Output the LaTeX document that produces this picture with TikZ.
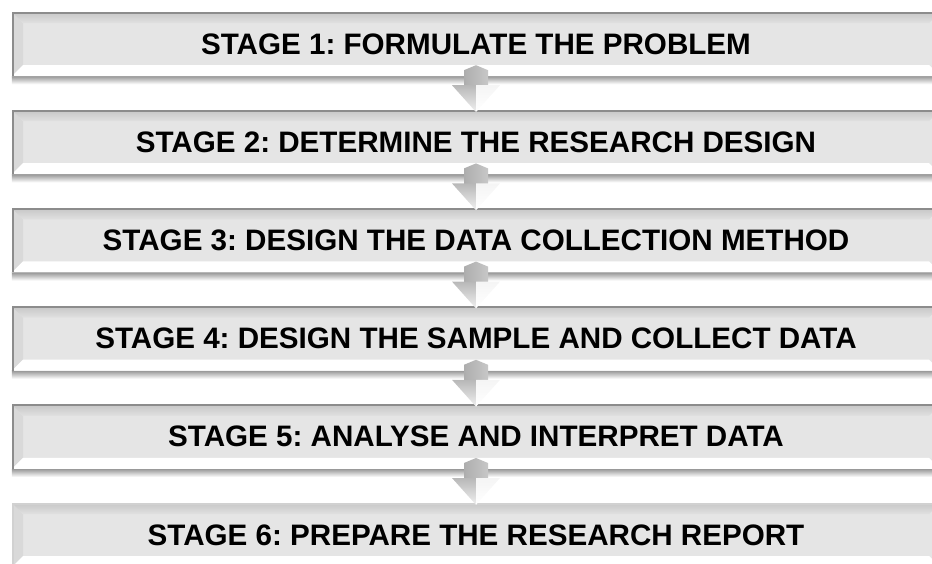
\documentclass[tikz,border=0pt]{standalone}
\usepackage{fontspec}
\setmainfont{Liberation Sans}
\frenchspacing
\usetikzlibrary{positioning,calc,backgrounds}

% block arrow from the bottom of one stage to the top of the next
\newcommand{\stagearrow}[2]{%
  \shade[left color=black!32,middle color=black!4,right color=black!22]
    ($(#1.south)+(0,11pt)$) -- ($(#1.south)+(12pt,6pt)$) -- ($(#1.south)+(12pt,-10pt)$)
    -- ($(#1.south)+(-12pt,-10pt)$) -- ($(#1.south)+(-12pt,6pt)$) -- cycle;
  \shade[top color=black!28,bottom color=black!6]
    ($(#1.south)+(-24pt,-9pt)$) -- ($(#1.south)+(0,-9pt)$) -- ($(#2.north)+(0,-2pt)$) -- cycle;
  \shade[top color=black!4,bottom color=white]
    ($(#1.south)+(0,-9pt)$) -- ($(#1.south)+(24pt,-9pt)$) -- ($(#2.north)+(0,-2pt)$) -- cycle;
}

\begin{document}
\begin{tikzpicture}[
  stage/.default=black!45,
  stage/.style={rectangle,minimum width=928pt,minimum height=64pt,inner sep=0pt,fill=black!10,
    font=\bfseries\fontsize{29.6}{34}\selectfont,
    path picture={
      \coordinate (nw) at (path picture bounding box.north west);
      \coordinate (ne) at (path picture bounding box.north east);
      \coordinate (sw) at (path picture bounding box.south west);
      \coordinate (se) at (path picture bounding box.south east);
      \fill[black!15] (nw) -- (sw) -- ($(sw)+(11pt,11pt)$) -- ($(nw)+(11pt,-11pt)$) -- cycle;
      \shade[top color=black!22,bottom color=black!12]
        (nw) -- (ne) -- ($(ne)+(-11pt,-11pt)$) -- ($(nw)+(11pt,-11pt)$) -- cycle;
      \fill[white] (sw) -- (se) -- ($(se)+(-11pt,11pt)$) -- ($(sw)+(11pt,11pt)$) -- cycle;
      \draw[#1,line width=3pt] (sw) -- (nw) -- (ne);
    }}]
\path[use as bounding box] (0,0) rectangle (932pt,-563pt);

\node[stage](s1) at (476pt,-44pt){STAGE 1: FORMULATE THE PROBLEM};
\node[stage,below=33.8pt of s1](s2){STAGE 2: DETERMINE THE RESEARCH DESIGN};
\node[stage,below=33.8pt of s2](s3){STAGE 3: DESIGN THE DATA COLLECTION METHOD};
\node[stage,below=33.8pt of s3](s4){STAGE 4: DESIGN THE SAMPLE AND COLLECT DATA};
\node[stage,below=33.8pt of s4](s5){STAGE 5: ANALYSE AND INTERPRET DATA};
\node[stage=black!18,below=33.8pt of s5](s6){STAGE 6: PREPARE THE RESEARCH REPORT};

% soft shadow under each box
\begin{scope}[on background layer]
  \foreach \n in {s1,s2,s3,s4,s5}
    \shade[top color=black!40,bottom color=white] (\n.south west) rectangle ($(\n.south east)+(0,-8pt)$);
\end{scope}

\stagearrow{s1}{s2}
\stagearrow{s2}{s3}
\stagearrow{s3}{s4}
\stagearrow{s4}{s5}
\stagearrow{s5}{s6}
\end{tikzpicture}
\end{document}
